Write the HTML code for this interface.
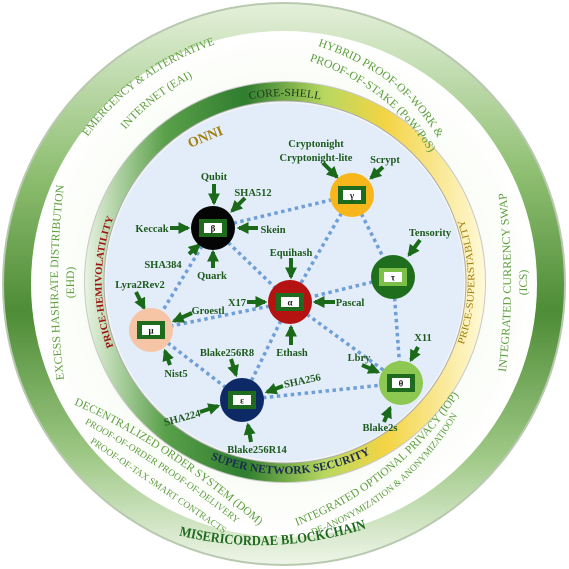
<!DOCTYPE html>
<html><head><meta charset="utf-8"><style>
html,body{margin:0;padding:0;background:#fff;}
svg{display:block;}
.l{font-family:"Liberation Serif",serif;font-weight:bold;font-size:10.5px;fill:#1d5a1d;}
.o{font-family:"Liberation Serif",serif;font-size:11.5px;fill:#5e9e3e;}
.g{font-family:"Liberation Serif",serif;font-weight:bold;font-size:9px;fill:#1a1a1a;}
</style></head><body>
<svg width="569" height="569" viewBox="0 0 569 569" xmlns="http://www.w3.org/2000/svg">
<defs>
<linearGradient id="band" x1="0" y1="0" x2="0" y2="1">
<stop offset="0" stop-color="#e4f0da"/><stop offset="0.3" stop-color="#8fbf72"/><stop offset="0.55" stop-color="#4e8c36"/><stop offset="0.8" stop-color="#9cc783"/><stop offset="1" stop-color="#eef5e8"/>
</linearGradient>
<linearGradient id="core" x1="0" y1="0" x2="1" y2="0">
<stop offset="0" stop-color="#e8f3e0"/><stop offset="0.2" stop-color="#5aa04a"/><stop offset="0.4" stop-color="#2f7d2f"/><stop offset="0.6" stop-color="#b8d860"/><stop offset="0.75" stop-color="#f3d444"/><stop offset="1" stop-color="#fff9d8"/>
</linearGradient>
<radialGradient id="mid" cx="0.5" cy="0.5" r="0.5">
<stop offset="0.7" stop-color="#eaf4e2"/><stop offset="0.8" stop-color="#fafdf7"/><stop offset="1" stop-color="#ffffff"/>
</radialGradient>
<marker id="ah" viewBox="0 0 10 10" refX="8" refY="5" markerWidth="3" markerHeight="3" orient="auto"><path d="M0,0 L10,5 L0,10 z" fill="#1a6a1a"/></marker>
<path id="p_core" d="M99,282 A186,186 0 0 1 471,282"/>
<path id="p_snet" d="M93,282 A192,192 0 0 0 477,282"/>
<path id="p_hemi" d="M127,375 A183,183 0 0 1 127,189"/>
<path id="p_sup" d="M450,375 A190,190 0 0 0 450,189"/>
<path id="p_ehd1" d="M66,395 Q50,282 66,170"/>
<path id="p_ehd2" d="M82,395 Q66,282 82,170"/>
<path id="p_ics1" d="M503,395 Q519,282 503,170"/>
<path id="p_ics2" d="M519,395 Q535,282 519,170"/>
<path id="p_eai1" d="M80,148 Q130,70 228,40"/>
<path id="p_eai2" d="M115,143 Q150,95 208,70"/>
<path id="p_hyb1" d="M305,42 Q405,70 444,150"/>
<path id="p_hyb2" d="M297,57 Q395,85 436,164"/>
<path id="p_dom1" d="M68,402 Q160,440 264,530"/>
<path id="p_dom2" d="M78,420 Q170,470 242,528"/>
<path id="p_dom3" d="M83,438 Q160,490 230,538"/>
<path id="p_iop1" d="M286,530 Q400,490 465,385"/>
<path id="p_iop2" d="M298,540 Q410,505 465,402"/>
<path id="p_mis" d="M160,530 Q270,564 385,522"/>
</defs>
<circle cx="284" cy="284" r="282" fill="#b9c9b0"/>
<circle cx="284" cy="284" r="280" fill="url(#band)"/>
<circle cx="284" cy="284" r="253" fill="url(#mid)"/>
<circle cx="285" cy="282" r="201" fill="#c8c8c8"/>
<circle cx="285" cy="282" r="200" fill="url(#core)"/>
<circle cx="285" cy="282" r="181" fill="#f2f5f2" stroke="#aaa" stroke-width="1"/>
<circle cx="285" cy="282" r="179" fill="#e3edf9"/>

<g stroke="#6f9fd6" stroke-width="3.5" stroke-dasharray="3.5 3.5" fill="none">
<line x1="213" y1="228" x2="352" y2="195"/>
<line x1="213" y1="228" x2="290" y2="302"/>
<line x1="213" y1="228" x2="151" y2="330"/>
<line x1="352" y1="195" x2="290" y2="302"/>
<line x1="352" y1="195" x2="393" y2="277"/>
<line x1="393" y1="277" x2="290" y2="302"/>
<line x1="393" y1="277" x2="401" y2="383"/>
<line x1="290" y1="302" x2="151" y2="330"/>
<line x1="290" y1="302" x2="242" y2="400"/>
<line x1="290" y1="302" x2="401" y2="383"/>
<line x1="151" y1="330" x2="242" y2="400"/>
<line x1="242" y1="400" x2="401" y2="383"/>
</g>

<g stroke="#1a6a1a" stroke-width="4" marker-end="url(#ah)">
<line x1="214" y1="184" x2="214" y2="203"/>
<line x1="245" y1="198" x2="232" y2="211"/>
<line x1="170" y1="228" x2="188" y2="228"/>
<line x1="258" y1="228" x2="239" y2="228"/>
<line x1="189" y1="254" x2="199" y2="245"/>
<line x1="213" y1="268" x2="213" y2="252"/>
<line x1="136" y1="292" x2="144" y2="308"/>
<line x1="192" y1="313" x2="174" y2="321"/>
<line x1="291" y1="258" x2="291" y2="277"/>
<line x1="247" y1="302" x2="265" y2="302"/>
<line x1="335" y1="302" x2="315" y2="302"/>
<line x1="323" y1="163" x2="337" y2="177"/>
<line x1="383" y1="167" x2="371" y2="178"/>
<line x1="420" y1="240" x2="409" y2="255"/>
<line x1="291" y1="345" x2="291" y2="327"/>
<line x1="231" y1="359" x2="236" y2="375"/>
<line x1="283" y1="386" x2="267" y2="392"/>
<line x1="200" y1="412" x2="218" y2="406"/>
<line x1="251" y1="442" x2="248" y2="425"/>
<line x1="170" y1="365" x2="165" y2="351"/>
<line x1="362" y1="365" x2="378" y2="372"/>
<line x1="418" y1="347" x2="411" y2="360"/>
<line x1="384" y1="422" x2="390" y2="408"/>
</g>

<g>
<circle cx="213" cy="228" r="22" fill="#050505"/>
<circle cx="352" cy="195" r="22" fill="#f7b71c"/>
<circle cx="393" cy="277" r="22" fill="#1e6e1e"/>
<circle cx="290" cy="302" r="22" fill="#b51212"/>
<circle cx="151" cy="330" r="22" fill="#f5c5a5"/>
<circle cx="242" cy="400" r="22" fill="#0d2a66"/>
<circle cx="401" cy="383" r="22" fill="#8cc852"/>
</g>
<g>
<rect x="199" y="219" width="28" height="18" fill="#1e6b1e"/><rect x="204" y="223" width="18" height="10" fill="#fff"/><text class="g" x="213" y="231.5" text-anchor="middle">β</text>
<rect x="338" y="186" width="28" height="18" fill="#1e6b1e"/><rect x="343" y="190" width="18" height="10" fill="#fff"/><text class="g" x="352" y="198.5" text-anchor="middle">γ</text>
<rect x="379" y="268" width="28" height="18" fill="#7cc04a"/><rect x="384" y="272" width="18" height="10" fill="#fff"/><text class="g" x="393" y="280.5" text-anchor="middle">τ</text>
<rect x="276" y="293" width="28" height="18" fill="#1e6b1e"/><rect x="281" y="297" width="18" height="10" fill="#fff"/><text class="g" x="290" y="305.5" text-anchor="middle">α</text>
<rect x="137" y="321" width="28" height="18" fill="#1e6b1e"/><rect x="142" y="325" width="18" height="10" fill="#fff"/><text class="g" x="151" y="333.5" text-anchor="middle">μ</text>
<rect x="228" y="391" width="28" height="18" fill="#1e6b1e"/><rect x="233" y="395" width="18" height="10" fill="#fff"/><text class="g" x="242" y="403.5" text-anchor="middle">ε</text>
<rect x="387" y="374" width="28" height="18" fill="#1e6b1e"/><rect x="392" y="378" width="18" height="10" fill="#fff"/><text class="g" x="401" y="386.5" text-anchor="middle">θ</text>
</g>

<g class="l" text-anchor="middle">
<text x="214" y="180">Qubit</text>
<text x="253" y="196">SHA512</text>
<text x="152" y="232">Keccak</text>
<text x="273" y="233">Skein</text>
<text x="163" y="268">SHA384</text>
<text x="212" y="279">Quark</text>
<text x="140" y="288">Lyra2Rev2</text>
<text x="208" y="314">Groestl</text>
<text x="291" y="256">Equihash</text>
<text x="237" y="306">X17</text>
<text x="350" y="306">Pascal</text>
<text x="316" y="147">Cryptonight</text>
<text x="316" y="161">Cryptonight-lite</text>
<text x="385" y="163">Scrypt</text>
<text x="430" y="236">Tensority</text>
<text x="292" y="356">Ethash</text>
<text x="227" y="356">Blake256R8</text>
<text x="303" y="384" transform="rotate(-12 303 384)">SHA256</text>
<text x="183" y="421" transform="rotate(-15 183 421)">SHA224</text>
<text x="257" y="453">Blake256R14</text>
<text x="176" y="377">Nist5</text>
<text x="359" y="361">Lbry</text>
<text x="423" y="341">X11</text>
<text x="380" y="431">Blake2s</text>
</g>

<text x="207" y="141" transform="rotate(-22 207 141)" text-anchor="middle" style="font-family:'Liberation Serif',serif;font-weight:bold;font-size:14px;fill:#a08010;">ONNI</text>

<g style="font-family:'Liberation Serif',serif;">
<text font-size="11" fill="#1a3a1a"><textPath href="#p_core" startOffset="50%" text-anchor="middle" textLength="72" lengthAdjust="spacingAndGlyphs">CORE-SHELL</textPath></text>
<text font-size="11.5" fill="#1a2a50" font-weight="bold"><textPath href="#p_snet" startOffset="51%" text-anchor="middle" textLength="165" lengthAdjust="spacingAndGlyphs">SUPER NETWORK SECURITY</textPath></text>
<text font-size="10" fill="#a01010" font-weight="bold"><textPath href="#p_hemi" startOffset="50%" text-anchor="middle" textLength="132" lengthAdjust="spacingAndGlyphs">PRICE-HEMIVOLATILITY</textPath></text>
<text font-size="10" fill="#a08010"><textPath href="#p_sup" startOffset="50%" text-anchor="middle" textLength="128" lengthAdjust="spacingAndGlyphs">PRICE-SUPERSTABLITY</textPath></text>
</g>
<g class="o">
<text><textPath href="#p_ehd1" startOffset="50%" text-anchor="middle" textLength="195" lengthAdjust="spacingAndGlyphs">EXCESS HASHRATE DISTRIBUTION</textPath></text>
<text><textPath href="#p_ehd2" startOffset="50%" text-anchor="middle">(EHD)</textPath></text>
<text><textPath href="#p_ics1" startOffset="50%" text-anchor="middle" textLength="180" lengthAdjust="spacingAndGlyphs">INTEGRATED CURRENCY SWAP</textPath></text>
<text><textPath href="#p_ics2" startOffset="50%" text-anchor="middle">(ICS)</textPath></text>
<text><textPath href="#p_eai1" startOffset="50%" text-anchor="middle" textLength="160" lengthAdjust="spacingAndGlyphs">EMERGENCY &amp; ALTERNATIVE</textPath></text>
<text><textPath href="#p_eai2" startOffset="50%" text-anchor="middle" textLength="86" lengthAdjust="spacingAndGlyphs">INTERNET (EAI)</textPath></text>
<text><textPath href="#p_hyb1" startOffset="50%" text-anchor="middle" textLength="155" lengthAdjust="spacingAndGlyphs">HYBRID PROOF-OF-WORK &amp;</textPath></text>
<text><textPath href="#p_hyb2" startOffset="50%" text-anchor="middle" textLength="155" lengthAdjust="spacingAndGlyphs">PROOF-OF-STAKE (PoW/PoS)</textPath></text>
<text><textPath href="#p_dom1" startOffset="50%" text-anchor="middle" textLength="222" lengthAdjust="spacingAndGlyphs">DECENTRALIZED ORDER SYSTEM (DOM)</textPath></text>
<text font-size="9.5"><textPath href="#p_dom2" startOffset="50%" text-anchor="middle" textLength="182" lengthAdjust="spacingAndGlyphs">PROOF-OF-ORDER  PROOF-OF-DELIVERY</textPath></text>
<text font-size="9.5"><textPath href="#p_dom3" startOffset="50%" text-anchor="middle" textLength="162" lengthAdjust="spacingAndGlyphs">PROOF-OF-TAX  SMART CONTRACTS</textPath></text>
<text><textPath href="#p_iop1" startOffset="50%" text-anchor="middle" textLength="212" lengthAdjust="spacingAndGlyphs">INTEGRATED OPTIONAL PRIVACY (IOP)</textPath></text>
<text font-size="9.5"><textPath href="#p_iop2" startOffset="50%" text-anchor="middle" textLength="192" lengthAdjust="spacingAndGlyphs">DE-ANONYMIZATION &amp; ANONYMIZATIOON</textPath></text>
</g>
<text style="font-family:'Liberation Serif',serif;font-weight:bold;font-size:14px;fill:#1f6a1f;"><textPath href="#p_mis" startOffset="50%" text-anchor="middle" textLength="190" lengthAdjust="spacingAndGlyphs">MISERICORDAE BLOCKCHAIN</textPath></text>
</svg>
</body></html>
